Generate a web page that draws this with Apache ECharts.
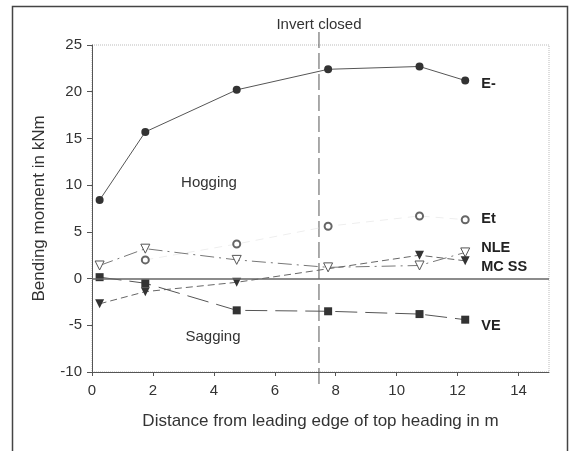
<!DOCTYPE html>
<html>
<head>
<meta charset="utf-8">
<script src="https://cdn.jsdelivr.net/npm/echarts@6/dist/echarts.min.js"></script>
<style>
  html, body { margin: 0; padding: 0; background: #fff; }
  #chart { width: 577px; height: 451px; }
</style>
</head>
<body>
<div id="chart"></div>
<script>
// measuring positions along the heading (m)
const xPos = [0.25, 1.75, 4.75, 7.75, 10.75, 12.25]
const eMinus = [8.4, 15.7, 20.2, 22.4, 22.7, 21.2]
const et = [null, 2.0, 3.7, 5.6, 6.7, 6.3]
const nle = [1.4, 3.2, 2.0, 1.2, 1.4, 2.8]
const mcSs = [-2.7, -1.4, -0.4, null, 2.5, 1.9]
const ve = [0.15, -0.5, -3.4, -3.5, -3.8, -4.4]
const xTicks = [0, 2, 4, 6, 8, 10, 12, 14]
const invertClosedAt = 7.45

const font = 'Liberation Sans, Arial, sans-serif'
const pairs = vals => xPos.map((x, i) => [x, vals[i]])

const endLabel = (dy) => ({
  show: true,
  formatter: '{a}',
  distance: 16,
  offset: [0, dy],
  fontFamily: font,
  fontSize: 14.5,
  fontWeight: 'bold',
  color: '#222'
})

const chart = echarts.init(document.getElementById('chart'))
chart.setOption({
  animation: false,
  grid: {
    left: 92, top: 45, right: 28, bottom: 79,
    show: true,
    borderColor: '#bbb',
    borderWidth: 1,
    borderType: 'dotted'
  },
  xAxis: {
    type: 'value',
    min: 0,
    max: 15,
    interval: 2,
    name: 'Distance from leading edge of top heading in m',
    nameLocation: 'middle',
    nameGap: 41,
    nameTextStyle: { fontFamily: font, fontSize: 17, color: '#333' },
    axisLine: { show: true, onZero: false, lineStyle: { color: '#555', width: 1 } },
    axisTick: { show: true, length: 4, customValues: xTicks, lineStyle: { color: '#555' } },
    axisLabel: { customValues: xTicks, margin: 11, fontFamily: font, fontSize: 15, color: '#333' },
    splitLine: { show: false }
  },
  yAxis: {
    type: 'value',
    min: -10,
    max: 25,
    interval: 5,
    name: 'Bending moment in kNm',
    nameLocation: 'middle',
    nameGap: 44,
    nameTextStyle: { fontFamily: font, fontSize: 17, color: '#333' },
    axisLine: { show: true, lineStyle: { color: '#555', width: 1 } },
    axisTick: { show: true, length: 5, lineStyle: { color: '#555' } },
    axisLabel: { margin: 10, fontFamily: font, fontSize: 15, color: '#333' },
    splitLine: { show: false }
  },
  series: [
    {
      name: 'E-',
      type: 'line',
      data: pairs(eMinus),
      symbol: 'circle',
      symbolSize: 8,
      itemStyle: { color: '#333' },
      lineStyle: { color: '#555', width: 1 },
      endLabel: endLabel(3),
      markLine: {
        silent: true,
        symbol: 'none',
        label: { show: false },
        lineStyle: { color: '#666', type: 'solid', width: 1.5 },
        data: [{ yAxis: 0 }]
      },
      z: 5
    },
    {
      name: 'Et',
      type: 'line',
      data: pairs(et),
      symbol: 'emptyCircle',
      symbolSize: 7,
      itemStyle: { color: '#666', borderWidth: 1 },
      lineStyle: { color: '#eeeeee', width: 1, type: [8, 6] },
      endLabel: endLabel(-1)
    },
    {
      name: 'NLE',
      type: 'line',
      data: pairs(nle),
      symbol: 'triangle',
      symbolRotate: 180,
      symbolSize: 9,
      itemStyle: { color: '#fff', borderColor: '#555', borderWidth: 1 },
      lineStyle: { color: '#777', width: 1, type: [14, 5, 2, 5] },
      endLabel: endLabel(-4)
    },
    {
      name: 'MC SS',
      type: 'line',
      data: pairs(mcSs),
      connectNulls: true,
      symbol: 'triangle',
      symbolRotate: 180,
      symbolSize: 9,
      itemStyle: { color: '#333' },
      lineStyle: { color: '#666', width: 1, type: [7, 4] },
      endLabel: endLabel(6)
    },
    {
      name: 'VE',
      type: 'line',
      data: pairs(ve),
      symbol: 'rect',
      symbolSize: 8,
      itemStyle: { color: '#333' },
      lineStyle: { color: '#555', width: 1, type: [22, 8] },
      endLabel: endLabel(6)
    }
  ]
})

// annotations: frame, invert closed marker, regions
const vx = chart.convertToPixel({ xAxisIndex: 0 }, invertClosedAt)
chart.setOption({
  graphic: [
    {
      type: 'rect',
      shape: { x: 12.5, y: 6.5, width: 555, height: 470 },
      style: { fill: 'none', stroke: '#444', lineWidth: 1.5 },
      silent: true
    },
    {
      type: 'line',
      shape: { x1: vx, y1: 32, x2: vx, y2: 386 },
      style: { stroke: '#555', lineWidth: 1, lineDash: [16, 5] },
      silent: true
    },
    {
      type: 'text',
      x: vx, y: 25,
      style: { text: 'Invert closed', font: '15px ' + font, fill: '#333', textAlign: 'center', textVerticalAlign: 'middle' }
    },
    {
      type: 'text',
      x: 209, y: 183,
      style: { text: 'Hogging', font: '15px ' + font, fill: '#333', textAlign: 'center', textVerticalAlign: 'middle' }
    },
    {
      type: 'text',
      x: 213, y: 337,
      style: { text: 'Sagging', font: '15px ' + font, fill: '#333', textAlign: 'center', textVerticalAlign: 'middle' }
    }
  ]
})
</script>
</body>
</html>
